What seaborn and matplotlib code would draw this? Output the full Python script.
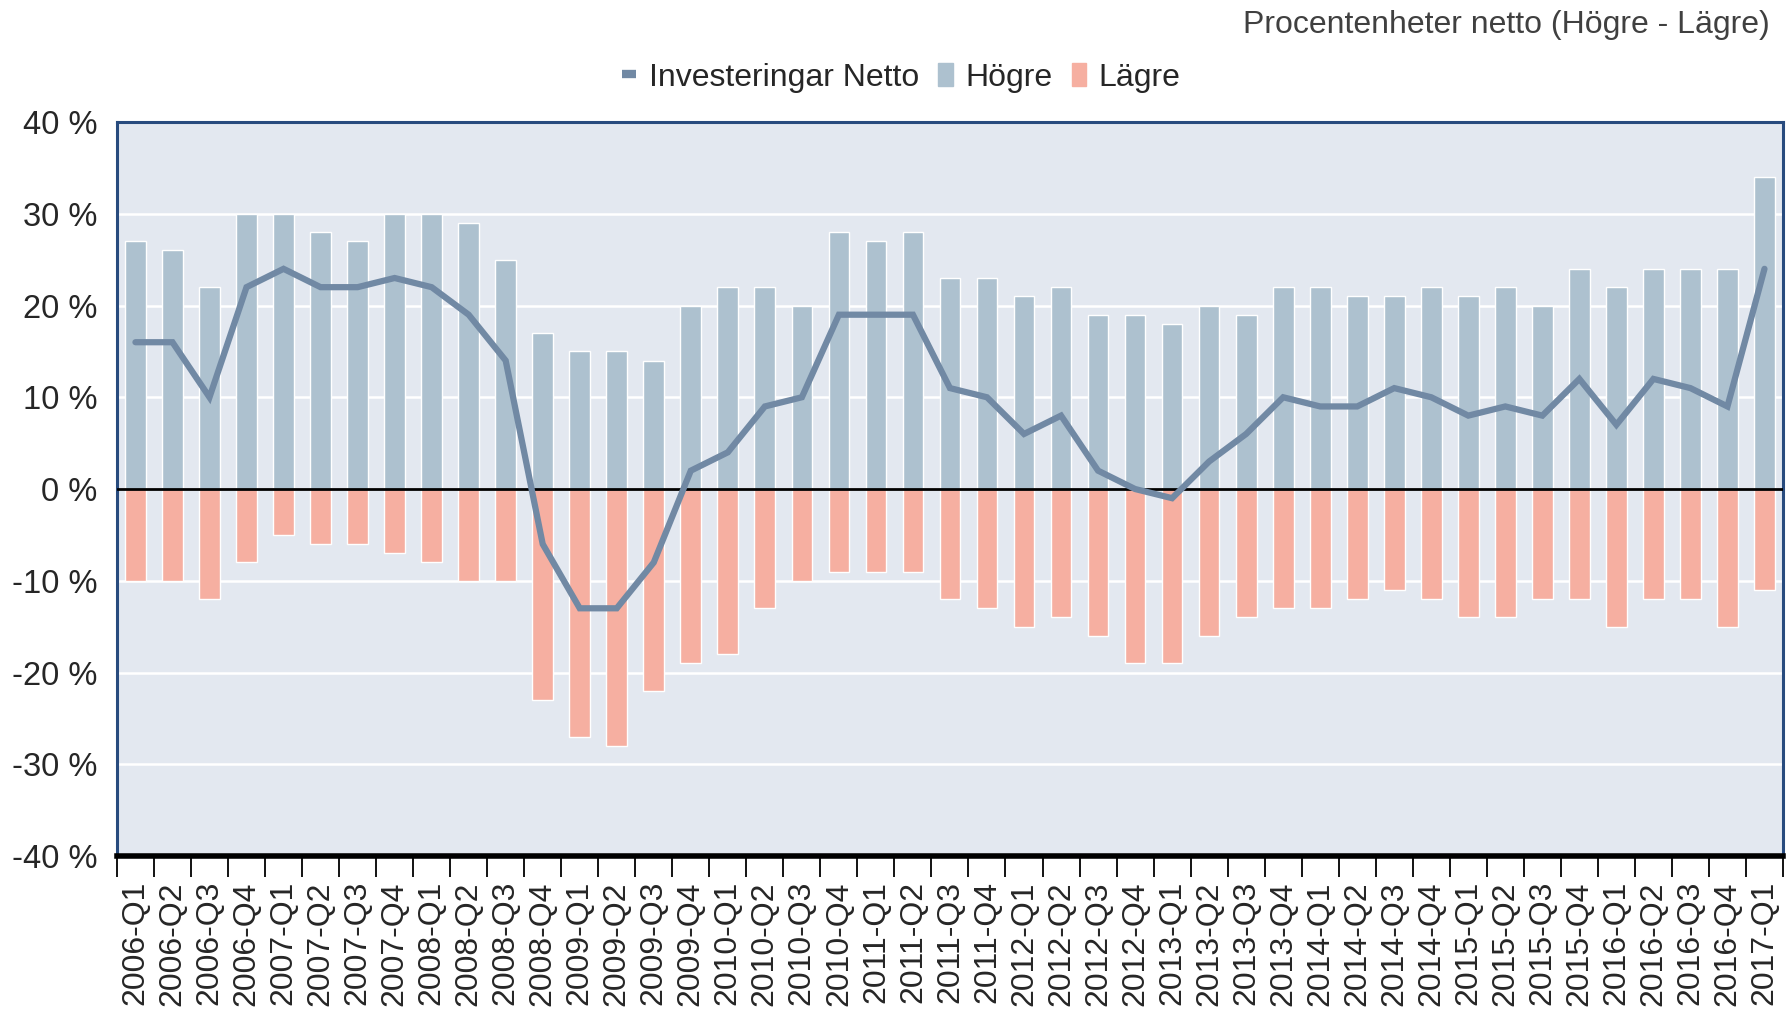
import numpy as np
import pandas as pd
import seaborn as sns
import matplotlib.pyplot as plt
from matplotlib.lines import Line2D
from matplotlib.patches import Patch
from matplotlib.ticker import FixedLocator

# Data (percent)
quarters = [f"{y}-Q{q}" for y in range(2006, 2017) for q in range(1, 5)] + ["2017-Q1"]
hogre = [27, 26, 22, 30, 30, 28, 27, 30, 30, 29, 25, 17,
         15, 15, 14, 20, 22, 22, 20, 28, 27, 28, 23, 23,
         21, 22, 19, 19, 18, 20, 19, 22, 22, 21, 21, 22,
         21, 22, 20, 24, 22, 24, 24, 24, 34]
lagre = [-10, -10, -12, -8, -5, -6, -6, -7, -8, -10, -10, -23,
         -27, -28, -22, -19, -18, -13, -10, -9, -9, -9, -12, -13,
         -15, -14, -16, -19, -19, -16, -14, -13, -13, -12, -11, -12,
         -14, -14, -12, -12, -15, -12, -12, -15, -11]
netto = [16, 16, 10, 22, 24, 22, 22, 23, 22, 19, 14, -6,
         -13, -13, -8, 2, 4, 9, 10, 19, 19, 19, 11, 10,
         6, 8, 2, 0, -1, 3, 6, 10, 9, 9, 11, 10,
         8, 9, 8, 12, 7, 12, 11, 9, 24]

df = pd.DataFrame({"kvartal": quarters, "Högre": hogre, "Lägre": lagre,
                   "Netto": netto})
df["pos"] = np.arange(len(df))

c_hogre = "#adc1cf"
c_lagre = "#f6afa1"
c_line = "#7189a4"
c_frame = "#284b7e"

sns.set_style("white")
plt.rcParams["font.family"] = ["Liberation Sans", "DejaVu Sans"]

fig = plt.figure(figsize=(17.88, 10.11), dpi=100)
ax = fig.add_axes([0.0654, 0.1533, 0.9318, 0.726])
ax.set_facecolor("#e3e8f0")

sns.barplot(data=df, x="kvartal", y="Högre", color=c_hogre, width=0.56,
            saturation=1, ax=ax, zorder=2)
sns.barplot(data=df, x="kvartal", y="Lägre", color=c_lagre, width=0.56,
            saturation=1, ax=ax, zorder=2)
sns.lineplot(data=df, x="pos", y="Netto", color=c_line, lw=4.5, ax=ax,
             zorder=4, solid_joinstyle="miter")

ax.axhline(0, color="black", lw=2, zorder=3)
ax.set_ylim(-40, 40)
ax.set_xlim(-0.5, len(df) - 0.5)
ax.set_yticks(range(-40, 41, 10))
ax.set_yticklabels([f"{v} %" for v in range(-40, 41, 10)], fontsize=23.5)
ax.yaxis.grid(True, color="white", lw=1.8, zorder=1)
ax.set_axisbelow(True)
ax.set_xticks(df["pos"])
ax.set_xticklabels(df["kvartal"], rotation=90, fontsize=23)
ax.xaxis.set_minor_locator(FixedLocator(np.arange(-0.5, len(df), 1)))
ax.tick_params(axis="x", which="major", length=0, pad=18)
ax.tick_params(axis="x", which="minor", length=15, width=1.3, color="black",
               direction="out", bottom=True)
ax.tick_params(axis="y", length=0, pad=14)
ax.set_xlabel("")
ax.set_ylabel("")

for side in ["left", "top", "right"]:
    ax.spines[side].set_color(c_frame)
    ax.spines[side].set_linewidth(2.2)
ax.spines["bottom"].set_color("black")
ax.spines["bottom"].set_linewidth(4)

handles = [Line2D([0], [0], color=c_line, lw=6, solid_capstyle="butt"),
           Patch(color=c_hogre), Patch(color=c_lagre)]
fig.legend(handles, ["Investeringar Netto", "Högre", "Lägre"], loc="center",
           bbox_to_anchor=(0.504, 0.923), ncol=3, frameon=False, fontsize=23,
           handlelength=0.45, handleheight=0.75, handletextpad=0.4,
           columnspacing=0.6)
fig.text(0.99, 0.975, "Procentenheter netto (Högre - Lägre)", ha="right",
         va="center", fontsize=23, color="#404040")

fig.savefig("out.png", dpi=100)
